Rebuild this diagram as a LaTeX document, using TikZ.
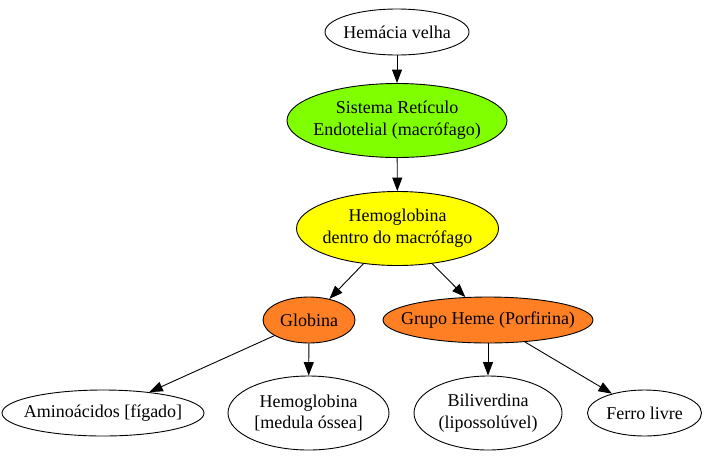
\documentclass[tikz,border=0pt]{standalone}
\usepackage{fontspec}
\setmainfont{Liberation Serif}
\usetikzlibrary{shapes.geometric,arrows.meta}
\definecolor{gvgreen}{HTML}{7FFF00}
\definecolor{gvyellow}{HTML}{FFFF00}
\definecolor{gvorange}{HTML}{FF7F24}
\begin{document}
\begin{tikzpicture}[x=1pt,y=-1pt,
  ov/.style={ellipse,draw=black,line width=0.9pt,inner sep=0pt,minimum width=2*#1},
  ov/.default=100,
  one/.style={minimum height=46pt},
  two/.style={minimum height=74pt},
  txt/.style={align=center,inner sep=0pt,font=\fontsize{18}{21.7}\selectfont},
  arr/.style={draw=black,line width=0.9pt,-{Triangle[length=13.5pt,width=10pt]}}]
\useasboundingbox (0,0) rectangle (706,456);
% nodes
\node[ov=72,one] (hem) at (397,32) {};
\node[txt] at (hem) {Hemácia velha};
\node[ov=110,two,fill=gvgreen] (sre) at (397,120.5) {};
\node[txt] at (sre) {Sistema Retículo\\Endotelial (macrófago)};
\node[ov=101,two,fill=gvyellow] (hgm) at (397.5,228.5) {};
\node[txt] at (hgm) {Hemoglobina\\dentro do macrófago};
\node[ov=46,one,fill=gvorange] (glo) at (309,320) {};
\node[txt] at (glo) {Globina};
\node[ov=105,one,fill=gvorange] (heme) at (488,320) {};
\node[txt] at (heme) {Grupo Heme (Porfirina)};
\node[ov=101,one] (amino) at (103,413) {};
\node[txt] at (amino) {Aminoácidos [fígado]};
\node[ov=80.5,two] (hmo) at (308.5,413) {};
\node[txt] at (hmo) {Hemoglobina\\{[medula óssea]}};
\node[ov=74,two] (bili) at (488,413) {};
\node[txt] at (bili) {Biliverdina\\(lipossolúvel)};
\node[ov=57,one] (ferro) at (644.5,413) {};
\node[txt] at (ferro) {Ferro livre};
% edges
\draw[arr] (hem) -- (sre);
\draw[arr] (sre) -- (hgm);
\draw[arr] (hgm) -- (glo);
\draw[arr] (hgm) -- (heme);
\draw[arr] (glo) -- (amino);
\draw[arr] (glo) -- (hmo);
\draw[arr] (heme) -- (bili);
\draw[arr] (heme) -- (ferro);
\end{tikzpicture}
\end{document}
